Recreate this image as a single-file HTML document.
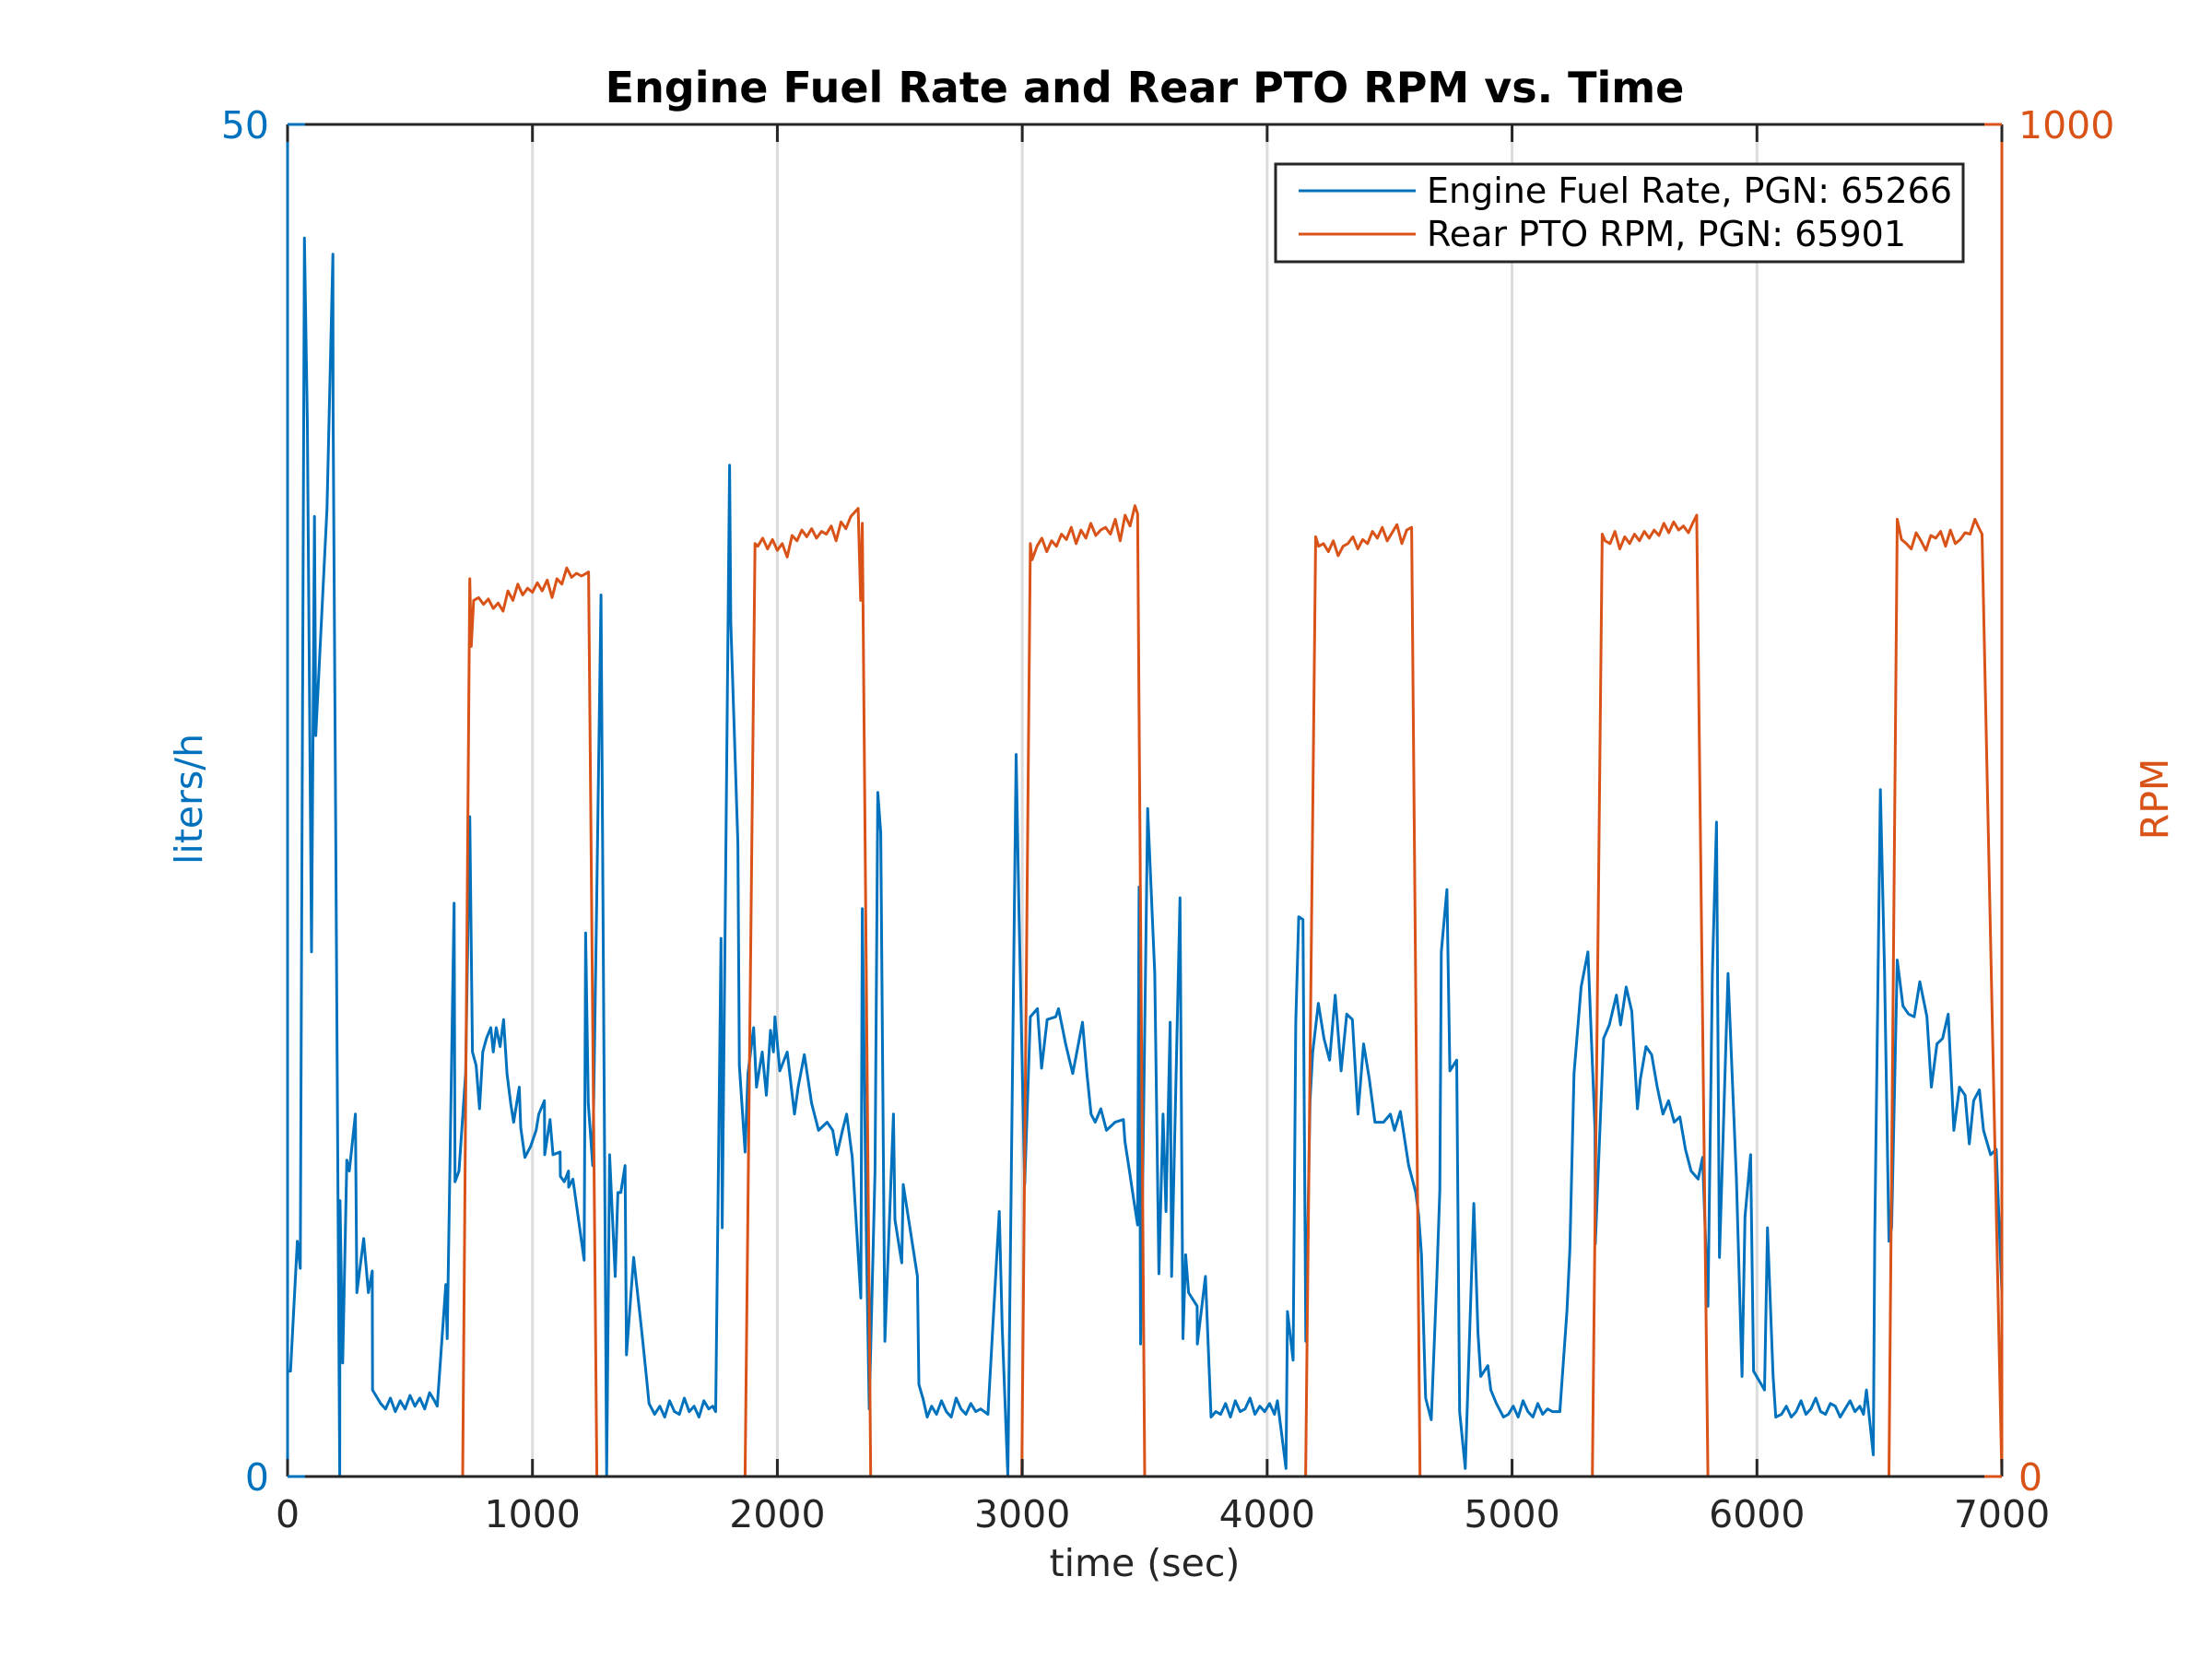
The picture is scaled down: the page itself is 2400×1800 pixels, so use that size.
<!DOCTYPE html>
<html><head><meta charset="utf-8"><style>
html,body{margin:0;padding:0;background:#fff;}
svg{display:block;font-family:"DejaVu Sans","Liberation Sans",sans-serif;}
</style></head><body>
<svg id="chart" width="2400" height="1800" viewBox="0 0 2400 1800" xmlns="http://www.w3.org/2000/svg">
<rect width="2400" height="1800" fill="#fff"/>
<g id="grid"></g>
<g id="marks"></g>
<g id="axes"></g>
<text x="1242" y="111" text-anchor="middle" font-weight="bold" font-size="46" fill="#000">Engine Fuel Rate and Rear PTO RPM vs. Time</text>
<text x="1242" y="1710" text-anchor="middle" font-size="41" fill="#262626">time (sec)</text>
<text transform="translate(219,867) rotate(-90)" text-anchor="middle" font-size="41" fill="#0072BD">liters/h</text>
<text transform="translate(2352,867) rotate(-90)" text-anchor="middle" font-size="41" fill="#D95319">RPM</text>
<g>
<rect x="1384" y="178" width="746" height="106" fill="#fff" stroke="#262626" stroke-width="3"/>
<line x1="1409" y1="207" x2="1536" y2="207" stroke="#0072BD" stroke-width="3"/>
<text x="1548" y="220" font-size="38" fill="#000">Engine Fuel Rate, PGN: 65266</text>
<line x1="1409" y1="254" x2="1536" y2="254" stroke="#D95319" stroke-width="3"/>
<text x="1548" y="267" font-size="38" fill="#000">Rear PTO RPM, PGN: 65901</text>
</g>
</svg>
<script>
const xTicks=[0,1000,2000,3000,4000,5000,6000,7000];
const yLeftTicks=[0,50];
const yRightTicks=[0,1000];
const fuelTime=[0,12,40,52,69,81,98,110,115,161,185,186,213,214,225,242,252,277,283,311,330,346,347,380,400,420,440,460,480,500,520,540,560,580,600,611,646,652,680,684,700,727,744,755,770,784,797,812,830,840,852,868,882,896,911,923,946,952,969,992,1015,1026,1049,1050,1072,1084,1113,1114,1130,1147,1148,1165,1211,1217,1228,1246,1263,1280,1303,1315,1338,1349,1361,1378,1384,1413,1447,1465,1476,1499,1520,1540,1560,1580,1600,1620,1640,1660,1680,1700,1720,1736,1748,1770,1775,1805,1810,1839,1845,1868,1880,1903,1915,1938,1955,1972,1984,1990,2010,2040,2070,2085,2110,2140,2168,2203,2226,2243,2266,2283,2306,2341,2347,2364,2375,2399,2410,2422,2439,2474,2480,2508,2514,2572,2578,2594,2612,2630,2650,2670,2690,2710,2730,2750,2770,2790,2810,2830,2860,2906,2918,2941,2964,2975,2987,3010,3033,3062,3079,3102,3137,3148,3177,3206,3223,3246,3264,3281,3298,3321,3344,3379,3413,3419,3436,3454,3471,3477,3483,3512,3541,3558,3575,3587,3604,3610,3644,3656,3667,3679,3714,3715,3748,3771,3790,3810,3830,3850,3870,3890,3910,3930,3950,3970,3990,4010,4030,4042,4077,4083,4106,4117,4129,4146,4158,4175,4186,4209,4232,4255,4278,4302,4325,4348,4371,4394,4417,4440,4475,4503,4520,4544,4578,4607,4618,4630,4647,4670,4693,4705,4711,4734,4746,4774,4786,4809,4844,4861,4872,4901,4913,4936,4965,4985,5005,5025,5045,5065,5085,5105,5125,5145,5165,5195,5224,5236,5253,5282,5310,5339,5340,5374,5397,5426,5443,5466,5489,5512,5524,5547,5570,5593,5616,5639,5662,5685,5708,5731,5760,5778,5800,5818,5835,5847,5882,5916,5939,5951,5974,5986,6031,6043,6066,6077,6100,6120,6140,6160,6180,6200,6220,6240,6260,6280,6300,6320,6340,6360,6380,6400,6420,6435,6447,6475,6481,6504,6521,6539,6550,6573,6596,6619,6642,6665,6694,6712,6735,6758,6781,6804,6827,6850,6867,6885,6908,6925,6954,6977,7000];
const fuelValues=[3.9,3.9,8.7,7.7,45.8,38.9,19.4,35.5,27.4,35.8,45.2,39.5,0,10.2,4.2,11.7,11.3,13.4,6.8,8.8,6.8,7.6,3.2,2.7,2.5,2.9,2.4,2.8,2.5,3.0,2.6,2.9,2.5,3.1,2.8,2.6,7.1,5.1,21.2,10.9,11.3,14.9,24.4,15.7,15.2,13.6,15.7,16.2,16.6,15.7,16.6,15.9,16.9,14.9,13.8,13.1,14.4,12.9,11.8,12.2,12.8,13.4,13.9,11.9,13.2,11.9,12.0,11.1,10.9,11.3,10.7,11.0,8.0,20.1,13.8,11.5,21.7,32.6,0,11.9,7.4,10.5,10.5,11.5,4.5,8.1,5.3,3.7,2.7,2.3,2.6,2.2,2.8,2.4,2.3,2.9,2.4,2.6,2.2,2.8,2.5,2.6,2.4,19.9,9.2,37.4,31.6,23.4,15.2,12.0,14.9,16.6,14.4,15.7,14.1,16.5,15.7,17.0,15.0,15.7,13.4,14.4,15.6,13.8,12.8,13.1,12.8,11.9,12.8,13.4,11.8,6.6,21.0,8.6,2.5,11.3,25.3,23.8,5.0,13.4,9.5,7.9,10.8,7.4,3.4,2.9,2.2,2.6,2.3,2.8,2.4,2.2,2.9,2.5,2.3,2.7,2.4,2.5,2.3,9.8,5.5,0,18.1,26.7,20.7,10.8,17.0,17.3,15.1,16.9,17.0,17.3,16.0,14.9,15.7,16.8,14.9,13.4,13.1,13.6,12.8,13.1,13.2,12.4,11.4,10.3,9.3,21.8,4.9,24.7,18.6,7.5,13.4,9.8,16.8,7.4,21.4,5.1,8.2,6.8,6.3,4.9,7.4,2.2,2.4,2.3,2.7,2.2,2.8,2.4,2.5,2.9,2.3,2.6,2.4,2.7,2.3,2.8,0.3,6.1,4.3,16.8,20.7,20.6,5.0,13.9,15.7,17.5,16.2,15.4,17.8,15.0,17.1,16.9,13.4,16.0,14.7,13.1,13.1,13.4,12.8,13.5,11.5,10.5,9.7,8.2,2.9,2.1,7.4,10.6,19.4,21.7,15.0,15.4,2.4,0.3,10.1,5.3,3.7,4.1,3.2,2.7,2.2,2.3,2.6,2.2,2.8,2.4,2.2,2.7,2.3,2.5,2.4,2.4,6.1,8.4,14.9,18.1,19.4,12.8,8.6,16.2,16.7,17.8,16.7,18.1,17.2,13.6,14.7,15.9,15.6,14.4,13.4,13.9,13.1,13.3,12.1,11.3,11.0,11.8,6.3,18.6,24.2,8.1,18.6,11.0,3.7,9.6,11.9,3.9,3.2,9.2,3.7,2.2,2.3,2.6,2.2,2.4,2.8,2.3,2.5,2.9,2.4,2.3,2.7,2.6,2.2,2.5,2.8,2.4,2.6,2.3,3.2,0.8,8.9,25.4,18.7,8.7,9.2,19.1,17.4,17.1,17.0,18.3,17.0,14.4,16.0,16.2,17.1,12.8,14.4,14.1,12.3,13.9,14.3,12.8,11.9,12.1,6.8];
const rpmTime=[0,715,744,750,760,780,800,820,840,860,880,900,920,940,960,980,1000,1020,1040,1060,1080,1100,1120,1140,1160,1180,1200,1229,1263,1868,1909,1920,1940,1960,1980,2000,2020,2040,2060,2080,2100,2120,2140,2160,2180,2200,2220,2240,2260,2280,2300,2330,2340,2347,2381,2998,3033,3040,3060,3080,3100,3120,3140,3160,3180,3200,3220,3240,3260,3280,3300,3320,3340,3360,3380,3400,3420,3440,3460,3471,3500,4157,4198,4210,4230,4250,4270,4290,4310,4330,4350,4370,4390,4410,4430,4450,4470,4490,4510,4530,4550,4570,4590,4624,5328,5368,5380,5400,5420,5440,5460,5480,5500,5520,5540,5560,5580,5600,5620,5640,5660,5680,5700,5720,5740,5754,5800,6539,6573,6590,6610,6630,6650,6670,6690,6710,6730,6750,6770,6790,6810,6830,6850,6870,6890,6905,6919,7000];
const rpmValues=[0,0,664,614,648,650,645,649,642,646,640,655,648,660,652,657,654,661,655,663,650,664,660,672,665,668,666,669,0,0,690,688,694,686,693,685,690,680,696,692,700,695,701,694,699,697,703,692,706,701,710,716,648,705,0,0,690,678,688,694,684,692,688,697,693,702,690,700,694,705,696,700,702,697,708,692,711,703,718,712,0,0,695,688,690,684,692,681,688,690,695,686,693,690,699,694,702,692,698,704,690,700,702,0,0,697,692,690,699,686,695,690,697,692,699,694,700,696,705,698,706,700,703,698,706,711,0,0,708,693,690,686,698,692,685,696,694,699,688,700,690,693,698,697,708,702,697,0];
const NS='http://www.w3.org/2000/svg';
const PL=312,PR=2172,PT=135,PB=1602;
const xs=t=>PL+t/7000*(PR-PL);
const yF=v=>PB-v/50*(PB-PT);
const yR=v=>PB-v/1000*(PB-PT);
function mk(tag,attrs,parent){const e=document.createElementNS(NS,tag);for(const k in attrs)e.setAttribute(k,attrs[k]);parent.appendChild(e);return e;}
const gridG=document.getElementById('grid'),marksG=document.getElementById('marks'),axesG=document.getElementById('axes');
xTicks.forEach((t,i)=>{
  if(i>0&&i<xTicks.length-1){
    const g=mk('line',{x1:xs(t),x2:xs(t),y1:PT,y2:PB,stroke:'#dcdcdc','stroke-width':3},gridG);
    
    
  }
});
let d='';const nF=Math.min(fuelTime.length,fuelValues.length);
for(let i=0;i<nF;i++){d+=(i?'L':'M')+xs(fuelTime[i]).toFixed(1)+' '+yF(fuelValues[i]).toFixed(1);}
const fp=mk('path',{d:d,fill:'none',stroke:'#0072BD','stroke-width':3,'stroke-linejoin':'round'},marksG);


d='';const nR=Math.min(rpmTime.length,rpmValues.length);
for(let i=0;i<nR;i++){d+=(i?'L':'M')+xs(rpmTime[i]).toFixed(1)+' '+yR(rpmValues[i]).toFixed(1);}
const rp=mk('path',{d:d,fill:'none',stroke:'#D95319','stroke-width':3,'stroke-linejoin':'round'},marksG);


const topLine=mk('line',{x1:PL,x2:PR,y1:PT,y2:PT,stroke:'#262626','stroke-width':3},axesG);


const botLine=mk('line',{x1:PL,x2:PR,y1:PB,y2:PB,stroke:'#262626','stroke-width':3},axesG);


const leftLine=mk('line',{x1:PL,x2:PL,y1:PT,y2:PB,stroke:'#0072BD','stroke-width':3},axesG);


const rightLine=mk('line',{x1:PR,x2:PR,y1:PT,y2:PB,stroke:'#D95319','stroke-width':3},axesG);


xTicks.forEach(t=>{
  const a=mk('line',{x1:xs(t),x2:xs(t),y1:PB,y2:PB-19,stroke:'#262626','stroke-width':3},axesG);
  
  
  const b=mk('line',{x1:xs(t),x2:xs(t),y1:PT,y2:PT+19,stroke:'#262626','stroke-width':3},axesG);
  
  
  const tx=mk('text',{x:xs(t),y:1657,'text-anchor':'middle','font-size':41,fill:'#262626'},axesG);
  tx.textContent=t;
  
  
});
yLeftTicks.forEach(v=>{
  const a=mk('line',{x1:PL,x2:PL+19,y1:yF(v),y2:yF(v),stroke:'#0072BD','stroke-width':3},axesG);
  
  
  const tx=mk('text',{x:292,y:yF(v)+15,'text-anchor':'end','font-size':41,fill:'#0072BD'},axesG);
  tx.textContent=v;
  
  
});
yRightTicks.forEach(v=>{
  const a=mk('line',{x1:PR,x2:PR-19,y1:yR(v),y2:yR(v),stroke:'#D95319','stroke-width':3},axesG);
  
  
  const tx=mk('text',{x:2190,y:yR(v)+15,'text-anchor':'start','font-size':41,fill:'#D95319'},axesG);
  tx.textContent=v;
  
  
});
</script>
</body></html>
